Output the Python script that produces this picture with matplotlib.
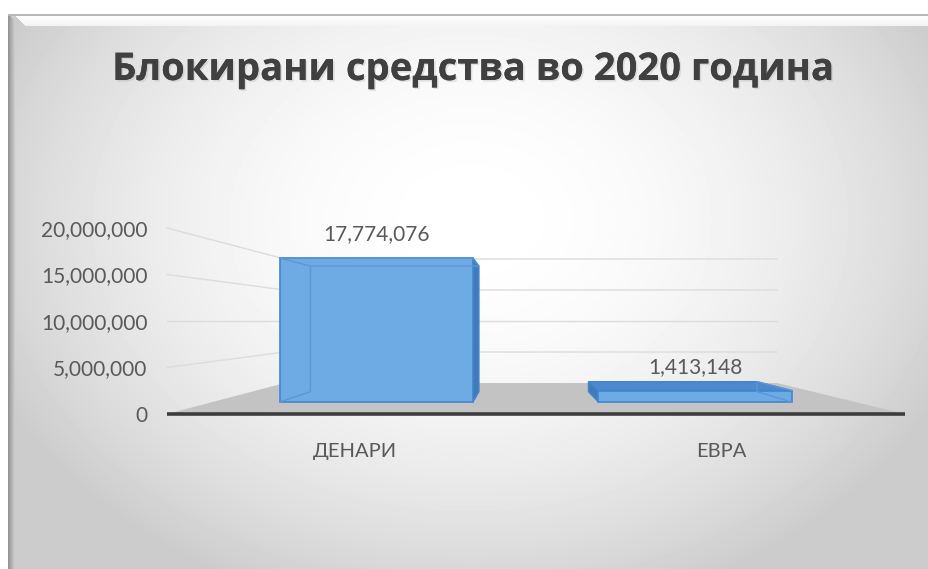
import numpy as np
import matplotlib.pyplot as plt
import matplotlib.patheffects as pe
from matplotlib.patches import Polygon
from matplotlib.ticker import FuncFormatter

categories = ["ДЕНАРИ", "ЕВРА"]
values = [17774076, 1413148]
yticks = [0, 5000000, 10000000, 15000000, 20000000]
title = "Блокирани средства во 2020 година"

W, H = 929, 569
plt.rcParams['font.family'] = ['Lato', 'DejaVu Sans']

fig = plt.figure(figsize=(W / 100, H / 100), dpi=100)

# --- background: soft grey frame with bevel ---
yy, xx = np.mgrid[0:H, 0:W]
r = np.sqrt(((xx - 470) / 520.0) ** 2 + ((yy - 220) / 400.0) ** 2)
shade = 1 - 0.2 * np.clip(r, 0, 1) ** 2
img = np.ones((H, W))
inside = (xx >= 8) & (yy >= 14)
img[inside] = shade[inside]
# left bevel
for k in range(8):
    img[14 + k:, 8 + k] = np.minimum(img[14 + k:, 8 + k], 0.58 + 0.035 * k)
# top edge + highlight
img[14:16, 8:] = 0.72
for k in range(10):
    img[16 + k, 16 + k:] = np.maximum(img[16 + k, 16 + k:], 0.99 - 0.004 * k)

bg = fig.add_axes([0, 0, 1, 1])
bg.imshow(img, cmap='gray', vmin=0, vmax=1, extent=(0, W, H, 0), aspect='auto')
bg.axis('off')

fig.text(474 / W, 1 - 80 / H, title, ha='center', va='baseline', fontsize=27.5,
         fontweight='bold', color='#404040', family=['Open Sans', 'DejaVu Sans'],
         path_effects=[pe.withSimplePatchShadow(offset=(1.2, -1.2), shadow_rgbFace='#999999', alpha=0.25),
                       pe.Normal()])

# --- main axes (front plane of the 3D box) ---
ax = fig.add_axes([167 / W, 1 - 414 / H, 738 / W, 186 / H])
XMIN, XMAX = -0.514, 1.503
ax.set_xlim(XMIN, XMAX)
ax.set_ylim(0, 20e6)
ax.patch.set_visible(False)
for sp in ax.spines.values():
    sp.set_visible(False)

# simple perspective toward a vanishing point
VX, VY = 0.451, 10e6
S_WALL, S_FRONT, S_BACK = 0.667, 0.871, 0.76
BAR_W = 0.606


def proj(x, v, s):
    return (VX + s * (x - VX), VY + s * (v - VY))


# gridlines on side wall + back wall
for t in yticks[1:]:
    a = proj(XMIN, t, 1)
    b = proj(XMIN, t, S_WALL)
    c = proj(XMAX, t, S_WALL)
    ax.plot([a[0], b[0], c[0]], [a[1], b[1], c[1]], color='#dcdcdc', lw=1, clip_on=False, zorder=1)

# floor
floor = [proj(XMIN, 0, 1), proj(XMIN, 0, S_WALL), proj(XMAX, 0, S_WALL), proj(XMAX, 0, 1)]
ax.add_patch(Polygon(floor, closed=True, facecolor='#c3c3c3', edgecolor='none', clip_on=False, zorder=2))
ax.plot([XMIN, XMAX], [0, 0], color='#3d3d3d', lw=2.6, clip_on=False, zorder=3, solid_capstyle='butt')

FRONT = '#6eabe4'
SIDE = '#4279b8'
TOP = '#4d89cc'
EDGE = '#3f86d0'
HIDDEN = '#5a97d6'

for i, v in enumerate(values):
    x0, x1 = i - BAR_W / 2, i + BAR_W / 2
    f = [proj(x0, 0, S_FRONT), proj(x1, 0, S_FRONT), proj(x1, v, S_FRONT), proj(x0, v, S_FRONT)]
    b = [proj(x0, 0, S_BACK), proj(x1, 0, S_BACK), proj(x1, v, S_BACK), proj(x0, v, S_BACK)]
    left = [f[0], b[0], b[3], f[3]]
    right = [f[1], b[1], b[2], f[2]]
    top = [f[3], f[2], b[2], b[3]]
    faces = [(left, x0 > VX), (right, x1 < VX), (top, v < VY)]
    for pts, visible in faces:
        if visible:
            col = TOP if pts is top else SIDE
            ax.add_patch(Polygon(pts, closed=True, facecolor=col, edgecolor=EDGE, lw=1,
                                 clip_on=False, zorder=4))
    ax.add_patch(Polygon(f, closed=True, facecolor=FRONT, edgecolor=EDGE, lw=1.2,
                         clip_on=False, zorder=5))
    # hidden back edges seen through the glassy bar
    for pts, visible in faces:
        if not visible:
            ax.plot([p[0] for p in pts], [p[1] for p in pts],
                    color=HIDDEN, lw=1, clip_on=False, zorder=6)
    top_c = proj(i, v, S_FRONT)
    ax.annotate(f"{v:,}", top_c, xytext=(0, 17), textcoords='offset points',
                ha='center', va='center', fontsize=15, color='#595959', zorder=7)

ax.set_yticks(yticks)
ax.yaxis.set_major_formatter(FuncFormatter(lambda v, p: f"{int(v):,}"))
ax.tick_params(axis='y', length=0, pad=14, labelsize=15, labelcolor='#595959')
ax.set_xticks([0, 1], categories)
ax.tick_params(axis='x', length=0, pad=21, labelsize=14.5, labelcolor='#595959')

fig.savefig('out.png', dpi=100)
